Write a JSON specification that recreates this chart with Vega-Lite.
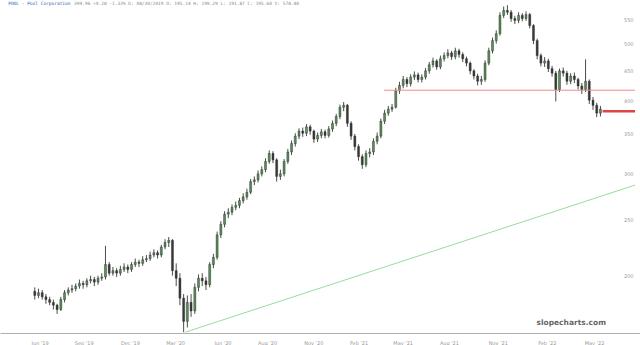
{
"$schema": "https://vega.github.io/schema/vega-lite/v6.json",
"width": 640, "height": 345,
"autosize": {"type": "fit", "contains": "padding"},
"padding": 0,
"background": "white",
"config": {"view": {"stroke": null}},
"datasets": {
"ohlc": [
{"d":"2019-06-14","o":188,"h":191,"l":182,"c":185},
{"d":"2019-06-21","o":185,"h":190,"l":183,"c":187},
{"d":"2019-06-28","o":187,"h":189,"l":182,"c":184},
{"d":"2019-07-05","o":184,"h":186,"l":179,"c":182},
{"d":"2019-07-12","o":182,"h":184,"l":178,"c":180},
{"d":"2019-07-19","o":180,"h":182,"l":175,"c":178},
{"d":"2019-07-26","o":178,"h":179,"l":172,"c":175},
{"d":"2019-08-02","o":175,"h":184,"l":174,"c":182},
{"d":"2019-08-09","o":182,"h":189,"l":180,"c":187},
{"d":"2019-08-16","o":187,"h":191,"l":185,"c":189},
{"d":"2019-08-23","o":189,"h":193,"l":187,"c":190},
{"d":"2019-08-30","o":190,"h":194,"l":188,"c":192},
{"d":"2019-09-06","o":192,"h":197,"l":190,"c":194},
{"d":"2019-09-13","o":194,"h":196,"l":190,"c":193},
{"d":"2019-09-20","o":193,"h":198,"l":191,"c":196},
{"d":"2019-09-27","o":196,"h":200,"l":194,"c":197},
{"d":"2019-10-04","o":197,"h":199,"l":192,"c":195},
{"d":"2019-10-11","o":195,"h":200,"l":193,"c":198},
{"d":"2019-10-18","o":198,"h":202,"l":196,"c":199},
{"d":"2019-10-25","o":199,"h":225,"l":197,"c":209},
{"d":"2019-11-01","o":209,"h":211,"l":200,"c":202},
{"d":"2019-11-08","o":202,"h":207,"l":200,"c":204},
{"d":"2019-11-15","o":204,"h":206,"l":199,"c":202},
{"d":"2019-11-22","o":202,"h":208,"l":200,"c":205},
{"d":"2019-11-29","o":205,"h":210,"l":203,"c":207},
{"d":"2019-12-06","o":207,"h":209,"l":202,"c":205},
{"d":"2019-12-13","o":205,"h":211,"l":203,"c":209},
{"d":"2019-12-20","o":209,"h":214,"l":207,"c":211},
{"d":"2019-12-27","o":211,"h":213,"l":207,"c":210},
{"d":"2020-01-03","o":210,"h":216,"l":208,"c":213},
{"d":"2020-01-10","o":213,"h":217,"l":211,"c":214},
{"d":"2020-01-17","o":214,"h":220,"l":212,"c":217},
{"d":"2020-01-24","o":217,"h":222,"l":215,"c":219},
{"d":"2020-01-31","o":219,"h":221,"l":214,"c":217},
{"d":"2020-02-07","o":217,"h":226,"l":215,"c":224},
{"d":"2020-02-14","o":224,"h":231,"l":222,"c":228},
{"d":"2020-02-21","o":228,"h":233,"l":224,"c":230},
{"d":"2020-02-28","o":230,"h":231,"l":200,"c":204},
{"d":"2020-03-06","o":204,"h":210,"l":192,"c":198},
{"d":"2020-03-13","o":198,"h":202,"l":178,"c":183},
{"d":"2020-03-20","o":183,"h":186,"l":160,"c":167},
{"d":"2020-03-27","o":167,"h":185,"l":163,"c":180},
{"d":"2020-04-03","o":180,"h":186,"l":170,"c":174},
{"d":"2020-04-10","o":174,"h":194,"l":172,"c":191},
{"d":"2020-04-17","o":191,"h":201,"l":188,"c":198},
{"d":"2020-04-24","o":198,"h":202,"l":192,"c":196},
{"d":"2020-05-01","o":196,"h":199,"l":189,"c":193},
{"d":"2020-05-08","o":193,"h":211,"l":191,"c":209},
{"d":"2020-05-15","o":209,"h":218,"l":206,"c":215},
{"d":"2020-05-22","o":215,"h":238,"l":213,"c":235},
{"d":"2020-05-29","o":235,"h":248,"l":232,"c":245},
{"d":"2020-06-05","o":245,"h":258,"l":242,"c":255},
{"d":"2020-06-12","o":255,"h":261,"l":251,"c":257},
{"d":"2020-06-19","o":257,"h":265,"l":254,"c":262},
{"d":"2020-06-26","o":262,"h":268,"l":259,"c":264},
{"d":"2020-07-03","o":264,"h":272,"l":261,"c":269},
{"d":"2020-07-10","o":269,"h":277,"l":266,"c":273},
{"d":"2020-07-17","o":273,"h":282,"l":270,"c":278},
{"d":"2020-07-24","o":278,"h":293,"l":276,"c":290},
{"d":"2020-07-31","o":290,"h":296,"l":286,"c":292},
{"d":"2020-08-07","o":292,"h":303,"l":289,"c":299},
{"d":"2020-08-14","o":299,"h":308,"l":296,"c":304},
{"d":"2020-08-21","o":304,"h":318,"l":301,"c":314},
{"d":"2020-08-28","o":314,"h":328,"l":311,"c":324},
{"d":"2020-09-04","o":324,"h":327,"l":312,"c":316},
{"d":"2020-09-11","o":316,"h":318,"l":290,"c":296},
{"d":"2020-09-18","o":296,"h":304,"l":292,"c":299},
{"d":"2020-09-25","o":299,"h":317,"l":296,"c":314},
{"d":"2020-10-02","o":314,"h":330,"l":311,"c":326},
{"d":"2020-10-09","o":326,"h":341,"l":322,"c":337},
{"d":"2020-10-16","o":337,"h":351,"l":333,"c":347},
{"d":"2020-10-23","o":347,"h":358,"l":343,"c":354},
{"d":"2020-10-30","o":354,"h":359,"l":346,"c":351},
{"d":"2020-11-06","o":351,"h":364,"l":347,"c":360},
{"d":"2020-11-13","o":360,"h":363,"l":349,"c":354},
{"d":"2020-11-20","o":354,"h":356,"l":338,"c":343},
{"d":"2020-11-27","o":343,"h":352,"l":339,"c":348},
{"d":"2020-12-04","o":348,"h":357,"l":344,"c":353},
{"d":"2020-12-11","o":353,"h":356,"l":344,"c":348},
{"d":"2020-12-18","o":348,"h":361,"l":345,"c":357},
{"d":"2020-12-25","o":357,"h":369,"l":353,"c":365},
{"d":"2021-01-01","o":365,"h":379,"l":361,"c":375},
{"d":"2021-01-08","o":375,"h":393,"l":371,"c":389},
{"d":"2021-01-15","o":389,"h":397,"l":383,"c":392},
{"d":"2021-01-22","o":392,"h":394,"l":360,"c":365},
{"d":"2021-01-29","o":365,"h":368,"l":342,"c":347},
{"d":"2021-02-05","o":347,"h":350,"l":328,"c":333},
{"d":"2021-02-12","o":333,"h":336,"l":315,"c":320},
{"d":"2021-02-19","o":320,"h":323,"l":305,"c":310},
{"d":"2021-02-26","o":310,"h":328,"l":307,"c":324},
{"d":"2021-03-05","o":324,"h":331,"l":319,"c":326},
{"d":"2021-03-12","o":326,"h":344,"l":322,"c":340},
{"d":"2021-03-19","o":340,"h":352,"l":336,"c":347},
{"d":"2021-03-26","o":347,"h":372,"l":344,"c":368},
{"d":"2021-04-02","o":368,"h":385,"l":364,"c":380},
{"d":"2021-04-09","o":380,"h":391,"l":376,"c":386},
{"d":"2021-04-16","o":386,"h":394,"l":382,"c":389},
{"d":"2021-04-23","o":389,"h":420,"l":387,"c":415},
{"d":"2021-04-30","o":415,"h":430,"l":410,"c":424},
{"d":"2021-05-07","o":424,"h":440,"l":419,"c":434},
{"d":"2021-05-14","o":434,"h":438,"l":421,"c":427},
{"d":"2021-05-21","o":427,"h":443,"l":422,"c":438},
{"d":"2021-05-28","o":438,"h":448,"l":433,"c":442},
{"d":"2021-06-04","o":442,"h":446,"l":429,"c":434},
{"d":"2021-06-11","o":434,"h":443,"l":429,"c":438},
{"d":"2021-06-18","o":438,"h":454,"l":434,"c":449},
{"d":"2021-06-25","o":449,"h":465,"l":444,"c":460},
{"d":"2021-07-02","o":460,"h":473,"l":455,"c":467},
{"d":"2021-07-09","o":467,"h":470,"l":451,"c":456},
{"d":"2021-07-16","o":456,"h":477,"l":452,"c":471},
{"d":"2021-07-23","o":471,"h":483,"l":466,"c":477},
{"d":"2021-07-30","o":477,"h":489,"l":472,"c":482},
{"d":"2021-08-06","o":482,"h":486,"l":469,"c":475},
{"d":"2021-08-13","o":475,"h":492,"l":470,"c":486},
{"d":"2021-08-20","o":486,"h":490,"l":473,"c":479},
{"d":"2021-08-27","o":479,"h":483,"l":465,"c":471},
{"d":"2021-09-03","o":471,"h":475,"l":457,"c":463},
{"d":"2021-09-10","o":463,"h":466,"l":443,"c":449},
{"d":"2021-09-17","o":449,"h":452,"l":434,"c":440},
{"d":"2021-09-24","o":440,"h":444,"l":424,"c":431},
{"d":"2021-10-01","o":431,"h":440,"l":425,"c":434},
{"d":"2021-10-08","o":434,"h":468,"l":430,"c":463},
{"d":"2021-10-15","o":463,"h":492,"l":459,"c":486},
{"d":"2021-10-22","o":486,"h":512,"l":481,"c":506},
{"d":"2021-10-29","o":506,"h":527,"l":500,"c":520},
{"d":"2021-11-05","o":520,"h":566,"l":516,"c":559},
{"d":"2021-11-12","o":559,"h":579,"l":553,"c":570},
{"d":"2021-11-19","o":570,"h":582,"l":560,"c":566},
{"d":"2021-11-26","o":566,"h":571,"l":545,"c":552},
{"d":"2021-12-03","o":552,"h":558,"l":540,"c":548},
{"d":"2021-12-10","o":548,"h":566,"l":542,"c":559},
{"d":"2021-12-17","o":559,"h":564,"l":546,"c":552},
{"d":"2021-12-24","o":552,"h":568,"l":547,"c":561},
{"d":"2021-12-31","o":561,"h":564,"l":531,"c":537},
{"d":"2022-01-07","o":537,"h":540,"l":499,"c":506},
{"d":"2022-01-14","o":506,"h":510,"l":470,"c":477},
{"d":"2022-01-21","o":477,"h":481,"l":457,"c":463},
{"d":"2022-01-28","o":463,"h":474,"l":456,"c":467},
{"d":"2022-02-04","o":467,"h":471,"l":447,"c":453},
{"d":"2022-02-11","o":453,"h":458,"l":439,"c":445},
{"d":"2022-02-18","o":445,"h":449,"l":398,"c":417},
{"d":"2022-02-25","o":417,"h":453,"l":413,"c":449},
{"d":"2022-03-04","o":449,"h":455,"l":439,"c":445},
{"d":"2022-03-11","o":445,"h":449,"l":425,"c":431},
{"d":"2022-03-18","o":431,"h":445,"l":426,"c":440},
{"d":"2022-03-25","o":440,"h":446,"l":428,"c":434},
{"d":"2022-04-01","o":434,"h":437,"l":417,"c":423},
{"d":"2022-04-08","o":423,"h":428,"l":410,"c":417},
{"d":"2022-04-15","o":417,"h":470,"l":413,"c":431},
{"d":"2022-04-22","o":431,"h":434,"l":394,"c":400},
{"d":"2022-04-29","o":400,"h":405,"l":385,"c":392},
{"d":"2022-05-06","o":392,"h":396,"l":374,"c":380},
{"d":"2022-05-13","o":380,"h":391,"l":375,"c":386}
],
"trend": [{"d":"2020-03-23","p":160},{"d":"2022-07-17","p":286}],
"res": [{"d":"2021-04-01","p":416},{"d":"2022-07-17","p":416}],
"sup": [{"d":"2022-05-17","p":383},{"d":"2022-07-17","p":383}],
"one": [{}]
},
"layer": [
{
"data": {"name": "ohlc"},
"mark": {"type": "rule", "color": "#1e1e1e", "strokeWidth": 0.8, "clip": true},
"encoding": {
"x": {"field": "d", "type": "temporal",
"scale": {"domain": [{"year":2019,"month":4,"date":19},{"year":2022,"month":7,"date":17}]},
"axis": {"title": null, "format": "%b '%y", "ticks": false, "grid": false,
"domainColor": "#b0b0b0", "domainWidth": 1, "labelColor": "#999999", "labelFontSize": 5,
"labelFont": "DejaVu Sans", "labelPadding": 7,
"values": [
{"year":2019,"month":6,"date":23},{"year":2019,"month":9,"date":14},{"year":2019,"month":12,"date":10},
{"year":2020,"month":3,"date":4},{"year":2020,"month":6,"date":1},{"year":2020,"month":8,"date":24},
{"year":2020,"month":11,"date":19},{"year":2021,"month":2,"date":12},{"year":2021,"month":5,"date":6},
{"year":2021,"month":8,"date":1},{"year":2021,"month":11,"date":1},{"year":2022,"month":2,"date":1},
{"year":2022,"month":5,"date":1}]}},
"y": {"field": "l", "type": "quantitative",
"scale": {"type": "log", "domain": [159.5, 594], "nice": false, "zero": false},
"axis": {"orient": "right", "title": null, "ticks": false, "domain": false, "grid": false,
"values": [200,250,300,350,400,450,500,550],
"labelAlign": "right", "labelPadding": -7, "labelColor": "#999999", "labelFontSize": 5,
"labelFont": "DejaVu Sans"}},
"y2": {"field": "h"}
}
},
{
"data": {"name": "ohlc"},
"mark": {"type": "bar", "size": 2.0, "stroke": "#222222", "strokeWidth": 0.4, "clip": true},
"encoding": {
"x": {"field": "d", "type": "temporal"},
"y": {"field": "o", "type": "quantitative"},
"y2": {"field": "c"},
"color": {"condition": {"test": "datum.c >= datum.o", "value": "#5a8f5a"}, "value": "#3a3a3a"}
}
},
{
"data": {"name": "trend"},
"mark": {"type": "line", "color": "#8fd88f", "strokeWidth": 0.9, "clip": true},
"encoding": {"x": {"field": "d", "type": "temporal"}, "y": {"field": "p", "type": "quantitative"}}
},
{
"data": {"name": "res"},
"mark": {"type": "line", "color": "#f08c8c", "strokeWidth": 1, "clip": true},
"encoding": {"x": {"field": "d", "type": "temporal"}, "y": {"field": "p", "type": "quantitative"}}
},
{
"data": {"name": "sup"},
"mark": {"type": "line", "color": "#dd4444", "strokeWidth": 2.5, "clip": true},
"encoding": {"x": {"field": "d", "type": "temporal"}, "y": {"field": "p", "type": "quantitative"}}
},
{
"data": {"name": "one"},
"mark": {"type": "text", "text": "POOL - Pool Corporation", "align": "left", "baseline": "middle",
"font": "DejaVu Sans Mono", "fontSize": 4.5, "color": "#3355bb"},
"encoding": {"x": {"datum": {"year":2019,"month":4,"date":25}}, "y": {"datum": 584}}
},
{
"data": {"name": "one"},
"mark": {"type": "text", "text": "399.96 +9.28 -1.33% D: 08/30/2019 O: 195.14 H: 199.29 L: 191.87 C: 195.60 V: 578.48",
"align": "left", "baseline": "middle", "font": "DejaVu Sans Mono", "fontSize": 4.5, "color": "#8a8a8a"},
"encoding": {"x": {"datum": {"year":2019,"month":8,"date":27}}, "y": {"datum": 584}}
},
{
"data": {"name": "one"},
"mark": {"type": "text", "text": "slopecharts.com", "align": "center", "baseline": "middle",
"font": "DejaVu Sans", "fontSize": 7.5, "fontWeight": "bold", "color": "#666666"},
"encoding": {"x": {"datum": {"year":2022,"month":3,"date":19}}, "y": {"datum": 166}}
}
]
}
